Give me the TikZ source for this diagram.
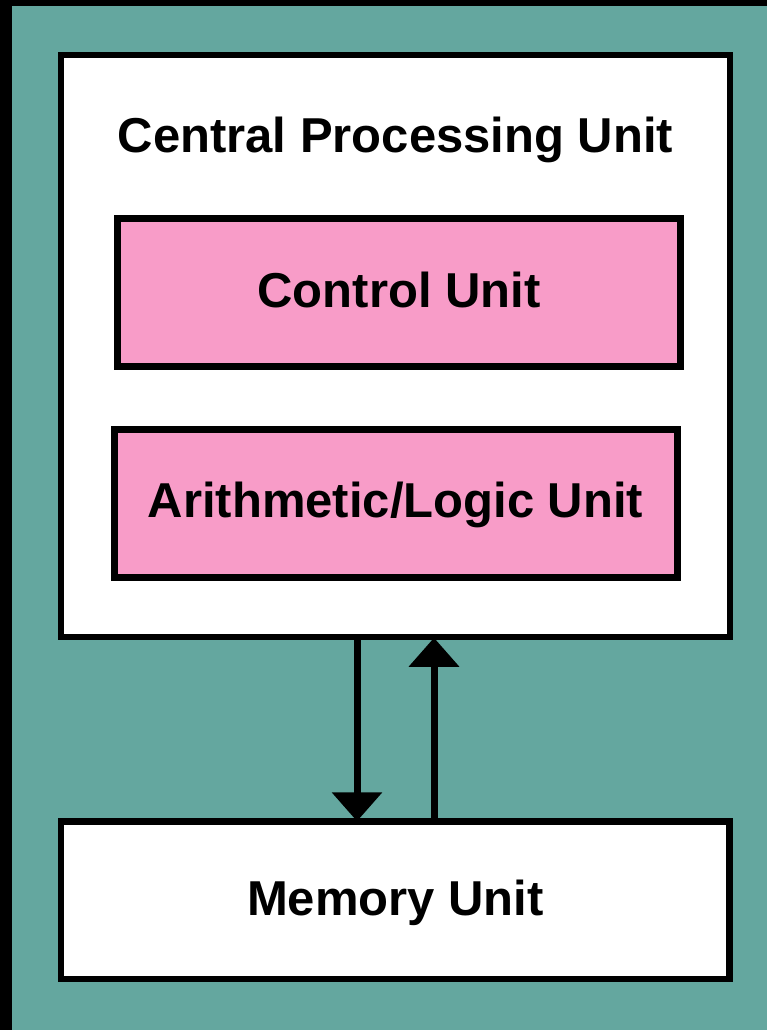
\documentclass[tikz,border=0pt]{standalone}
\usepackage{fontspec}
\setmainfont{Liberation Sans}
\usetikzlibrary{arrows.meta}
\definecolor{teal}{HTML}{64A79F}
\definecolor{pinkfill}{HTML}{F89CC8}
\tikzset{
  outerbox/.style={draw=black, fill=white, line width=6.5pt, rectangle, inner sep=0pt},
  unitbox/.style={draw=black, fill=pinkfill, line width=7pt, rectangle, inner sep=0pt},
  lbl/.style={font=\fontsize{49}{58}\selectfont\bfseries, anchor=base, inner sep=0pt},
  flow/.style={line width=7pt, -{Triangle[width=49pt,length=29pt]}}
}
\begin{document}
\begin{tikzpicture}[x=1pt,y=-1pt]
\useasboundingbox (0,0) rectangle (767,1030);
\fill[black] (0,0) rectangle (767,1030);
\fill[teal] (12,6) rectangle (767,1030);
\node[outerbox, minimum width=669pt, minimum height=582pt] (cpu) at (395.5,346) {};
\node[unitbox, minimum width=563pt, minimum height=147.5pt] (cu) at (399,292.25) {};
\node[unitbox, minimum width=563.5pt, minimum height=148pt] (alu) at (395.75,503.5) {};
\node[outerbox, minimum width=668.5pt, minimum height=157.5pt] (mem) at (395.25,900.25) {};
\node[lbl] (cputxt) at (395.5,152) {Central Processing Unit};
\node[lbl] (cutxt) at (399,307) {Control Unit};
\node[lbl] (alutxt) at (395.5,517) {Arithmetic/Logic Unit};
\node[lbl] (memtxt) at (395.5,915) {Memory Unit};
\draw[flow] (cpu.south -| 357,0) -- ([yshift=-3pt]mem.north -| 357,0);
\draw[flow] (mem.north -| 434,0) -- ([yshift=2.5pt]cpu.south -| 434,0);
\end{tikzpicture}
\end{document}
